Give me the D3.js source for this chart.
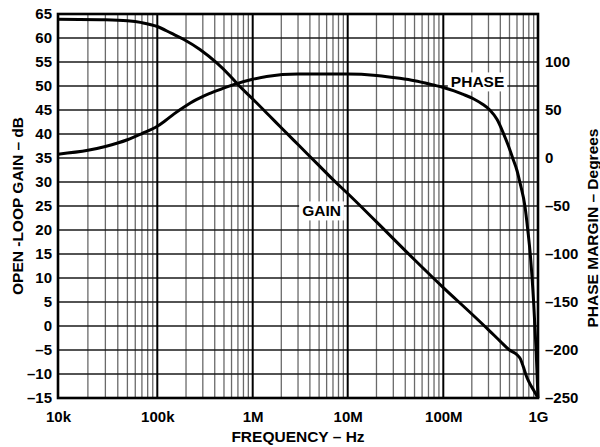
<!DOCTYPE html>
<html>
<head>
<meta charset="utf-8">
<script src="https://cdn.jsdelivr.net/npm/d3@7"></script>
<style>
  body { margin: 0; background: #fff; }
  svg text { font-family: "Liberation Sans", Arial, sans-serif; font-weight: bold; fill: #000; }
</style>
</head>
<body>
<svg id="vis-svg"></svg>
<script>
// tick values and labels
var freqTicks = [1e4, 1e5, 1e6, 1e7, 1e8, 1e9];
var freqLabels = ["10k", "100k", "1M", "10M", "100M", "1G"];
var gainTicks = [65, 60, 55, 50, 45, 40, 35, 30, 25, 20, 15, 10, 5, 0, -5, -10, -15];
var phaseTicks = [100, 50, 0, -50, -100, -150, -200, -250];

// open-loop gain (dB) vs frequency
var gainFreq = [1e4, 3e4, 5e4, 7e4, 1e5, 1.4e5, 1.9e5, 2.8e5, 4.2e5, 5.8e5, 7e5, 1e6, 1.5e6, 2e6, 3e6, 5e6,
  7e6, 1e7, 2e7, 5e7, 1e8, 2e8, 3e8, 4e8, 5e8, 6e8, 6.5e8, 7e8, 7.5e8, 8e8, 9e8, 1e9];
var gainDb = [63.9, 63.8, 63.6, 63.2, 62.4, 61.0, 59.7, 57.6, 54.8, 52.1, 50.3, 47.3, 43.8, 41.3, 37.8, 33.4,
  30.5, 27.6, 21.7, 13.8, 8.0, 2.5, -0.8, -3.2, -5.0, -6.0, -6.8, -8.5, -10.3, -11.6, -13.4, -15.0];

// phase margin (degrees) vs frequency
var phaseFreq = [1e4, 2e4, 3e4, 5e4, 7e4, 1e5, 1.2e5, 1.5e5, 2e5, 2.4e5, 2.8e5, 3.5e5, 4e5, 6.3e5, 1e6, 1.4e6,
  3e6, 1e7, 2e7, 3.5e7, 5e7, 7.9e7, 1e8, 1.3e8, 1.6e8, 2.1e8, 2.6e8, 3.1e8, 3.7e8, 4.3e8, 4.9e8, 5.4e8,
  6e8, 6.46e8, 7.3e8, 7.8e8, 8.3e8, 9e8, 9.55e8, 1e9];
var phaseDeg = [4, 8, 12, 19, 25.5, 33, 38.5, 46, 54.5, 59.3, 62.7, 67, 69.3, 76.5, 82, 85,
  87.5, 87.5, 86, 83, 80.5, 76, 73.5, 70, 66.5, 61.5, 56, 50, 40, 26, 12, 0,
  -13, -26, -51, -75, -101, -151, -200, -250];

function fmt(d) {
  return d < 0 ? "\u2013" + Math.abs(d) : String(d);
}

function drawChart() {
  var width = 600;
  var height = 447;
  var margin = { top: 14, bottom: 49, left: 58, right: 62 };

  var svg = d3.select('#vis-svg')
    .attr('width', width)
    .attr('height', height);

  // decades on the scanned chart are not quite even, so use a piecewise log scale
  var xScale = d3.scaleLog()
    .domain(freqTicks)
    .range([58, 157.3, 252.7, 347.7, 443.3, 538]);

  var yGain = d3.scaleLinear()
    .domain([-15, 65])
    .range([height - margin.bottom, margin.top]);

  var yPhase = d3.scaleLinear()
    .domain([-250, 150])
    .range([height - margin.bottom, margin.top]);

  var x0 = xScale.range()[0], x1 = xScale.range()[5];
  var yTop = margin.top, yBot = height - margin.bottom;

  // minor vertical grid (2..9 in each decade)
  var minor = [];
  freqTicks.slice(0, 5).forEach(function(d) {
    for (var k = 2; k <= 9; k++) minor.push(d * k);
  });
  svg.append('g').selectAll('line')
    .data(minor)
    .enter()
    .append('line')
    .attr('x1', function(d) { return xScale(d); })
    .attr('x2', function(d) { return xScale(d); })
    .attr('y1', yTop).attr('y2', yBot)
    .attr('stroke', '#6a6a6a')
    .attr('stroke-width', 1.3);

  // horizontal grid every 5 dB
  svg.append('g').selectAll('line')
    .data(gainTicks.slice(1, -1))
    .enter()
    .append('line')
    .attr('x1', x0).attr('x2', x1)
    .attr('y1', function(d) { return yGain(d); })
    .attr('y2', function(d) { return yGain(d); })
    .attr('stroke', '#1a1a1a')
    .attr('stroke-width', 1.6);

  // decade lines
  svg.append('g').selectAll('line')
    .data(freqTicks.slice(1, -1))
    .enter()
    .append('line')
    .attr('x1', function(d) { return xScale(d); })
    .attr('x2', function(d) { return xScale(d); })
    .attr('y1', yTop).attr('y2', yBot)
    .attr('stroke', '#000')
    .attr('stroke-width', 2);

  // curve labels with white boxes
  var labels = [
    { text: "PHASE", f: 2.3e8, v: 82 },
    { text: "GAIN", f: 5.3e6, v: 211 }
  ];
  labels.forEach(function(l) {
    var cx = xScale(l.f);
    var t = svg.append('text')
      .attr('x', cx).attr('y', l.v)
      .attr('dy', '0.35em')
      .attr('text-anchor', 'middle')
      .style('font-size', '15.5px')
      .text(l.text);
    var bb = t.node().getBBox();
    svg.insert('rect', 'text')
      .attr('x', bb.x - 3).attr('y', bb.y - 1)
      .attr('width', bb.width + 6).attr('height', bb.height + 2)
      .attr('fill', '#fff');
  });

  // curves
  var gainLine = d3.line()
    .x(function(d) { return xScale(d[0]); })
    .y(function(d) { return yGain(d[1]); })
    .curve(d3.curveMonotoneX);

  var phaseLine = d3.line()
    .x(function(d) { return xScale(d[0]); })
    .y(function(d) { return yPhase(d[1]); })
    .curve(d3.curveMonotoneX);

  svg.append('path')
    .datum(d3.zip(gainFreq, gainDb))
    .attr('d', gainLine)
    .attr('fill', 'none')
    .attr('stroke', '#000')
    .attr('stroke-width', 3);

  svg.append('path')
    .datum(d3.zip(phaseFreq, phaseDeg))
    .attr('d', phaseLine)
    .attr('fill', 'none')
    .attr('stroke', '#000')
    .attr('stroke-width', 3);

  // frame
  svg.append('rect')
    .attr('x', x0).attr('y', yTop)
    .attr('width', x1 - x0).attr('height', yBot - yTop)
    .attr('fill', 'none')
    .attr('stroke', '#000')
    .attr('stroke-width', 2.6);

  // axes (labels only, grid drawn above)
  var left = svg.append('g')
    .attr('transform', 'translate(' + x0 + ',0)')
    .call(d3.axisLeft(yGain).tickValues(gainTicks).tickSize(0).tickPadding(6).tickFormat(fmt));

  var right = svg.append('g')
    .attr('transform', 'translate(' + x1 + ',0)')
    .call(d3.axisRight(yPhase).tickValues(phaseTicks).tickSize(0).tickPadding(7).tickFormat(fmt));

  var bottom = svg.append('g')
    .attr('transform', 'translate(0,' + yBot + ')')
    .call(d3.axisBottom(xScale).tickValues(freqTicks).tickSize(0).tickPadding(13)
      .tickFormat(function(d, i) { return freqLabels[i]; }));

  [left, right, bottom].forEach(function(a) {
    a.select('.domain').remove();
    a.selectAll('text')
      .attr('fill', '#000')
      .style('font-family', '"Liberation Sans", Arial, sans-serif')
      .style('font-weight', 'bold')
      .style('font-size', '15px');
  });

  // axis titles
  svg.append('text')
    .attr('transform', 'translate(23,' + ((yTop + yBot) / 2) + ') rotate(-90)')
    .attr('text-anchor', 'middle')
    .style('font-size', '15.5px')
    .text("OPEN -LOOP GAIN \u2013 dB");

  svg.append('text')
    .attr('transform', 'translate(598,228) rotate(-90)')
    .attr('text-anchor', 'middle')
    .style('font-size', '15.5px')
    .text("PHASE MARGIN \u2013 Degrees");

  svg.append('text')
    .attr('x', (x0 + x1) / 2).attr('y', 442)
    .attr('text-anchor', 'middle')
    .style('font-size', '15.5px')
    .text("FREQUENCY \u2013 Hz");
}

drawChart();
</script>
</body>
</html>
